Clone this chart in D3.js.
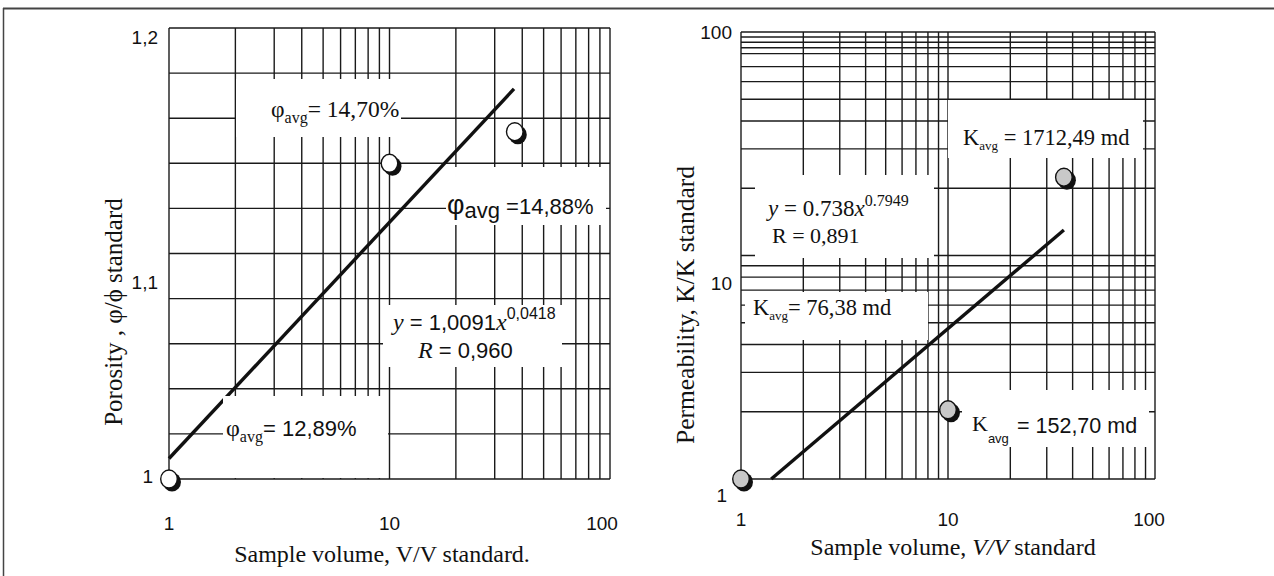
<!DOCTYPE html>
<html>
<head>
<meta charset="utf-8">
<script src="https://cdn.jsdelivr.net/npm/d3@7"></script>
<style>
html,body{margin:0;padding:0;background:#fff;}
svg{display:block;}
</style>
</head>
<body>
<svg id="chart" width="1274" height="576"></svg>
<script>
// ---------- data ----------
const xGridValues = [1,2,3,4,5,6,7,8,9,10,20,30,40,50,60,70,80,90,100];
const xTickValues = [1,10,100];
const xTickLabels = ["1","10","100"];

const porosityGridValues = [1.00,1.02,1.04,1.06,1.08,1.10,1.12,1.14,1.16,1.18,1.20];
const porosityTickValues = [1.2,1.1,1.0];
const porosityTickLabels = ["1,2","1,1","1"];
const porosityPointX = [1, 10, 37];
const porosityPointY = [1.0, 1.14, 1.154];
const porosityTrendX = [1, 36.7];
const porosityTrendY = [1.0091, 1.173];

const permGridValues = [1,2,3,4,5,6,7,8,9,10,20,30,40,50,60,70,80,85,90,95,100];
const permTickValues = [100,10,1];
const permTickLabels = ["100","10","1"];
const permPointX = [1, 10, 36.3];
const permPointY = [1.0, 2.04, 22.4];
const permTrendX = [1.4, 36.3];
const permTrendY = [1.0, 13.0];

// ---------- setup ----------
const svg = d3.select("#chart");
const SERIF = "'Liberation Serif','Times New Roman',serif";
const SANS = "'Liberation Sans',Arial,sans-serif";

// outer frame
svg.append("line").attr("x1",3).attr("y1",8.5).attr("x2",1274).attr("y2",8.5).attr("stroke","#444").attr("stroke-width",2);
svg.append("line").attr("x1",3.5).attr("y1",8).attr("x2",3.5).attr("y2",576).attr("stroke","#444").attr("stroke-width",1.5);

function panel(cfg){
  const g = svg.append("g");
  const x = d3.scaleLog().domain([1,100]).range([cfg.x0,cfg.x1]);
  const y = cfg.yScale;
  const gridG = g.append("g").attr("stroke","#1a1a1a").attr("stroke-width",1.4);
  gridG.selectAll("line.v").data(xGridValues).join("line").attr("class","v")
    .attr("x1",d=>x(d)).attr("x2",d=>x(d)).attr("y1",cfg.y0).attr("y2",cfg.y1);
  gridG.selectAll("line.h").data(cfg.gridY).join("line").attr("class","h")
    .attr("x1",cfg.x0).attr("x2",cfg.x1).attr("y1",d=>y(d)).attr("y2",d=>y(d));
  // trend line
  const line = d3.line().x(d=>x(d[0])).y(d=>y(d[1]));
  g.append("path").datum(d3.zip(cfg.trendX,cfg.trendY)).attr("d",line)
    .attr("fill","none").attr("stroke","#111").attr("stroke-width",3.4);
  // white annotation boxes
  g.selectAll("rect.box").data(cfg.boxes).join("rect").attr("class","box")
    .attr("x",d=>d[0]).attr("y",d=>d[1]).attr("width",d=>d[2]-d[0]).attr("height",d=>d[3]-d[1]).attr("fill","#fff");
  // x tick labels
  g.selectAll("text.xt").data(xTickValues).join("text").attr("class","xt")
    .attr("x",(d,i)=>x(d)+cfg.xTickDx[i]).attr("y",cfg.xTickY)
    .attr("text-anchor","middle").attr("font-family",SANS).attr("font-size",19).attr("fill","#111")
    .text((d,i)=>xTickLabels[i]);
  // y tick labels
  g.selectAll("text.yt").data(cfg.yTicks).join("text").attr("class","yt")
    .attr("x",(d,i)=>cfg.yTickX[i]).attr("y",(d,i)=>y(d)+cfg.yTickDy[i])
    .attr("text-anchor","end").attr("dominant-baseline","central")
    .attr("font-family",SANS).attr("font-size",19).attr("fill","#111")
    .text((d,i)=>cfg.yTickLabels[i]);
  // markers
  const pts = d3.zip(cfg.pointX,cfg.pointY);
  const mg = g.append("g");
  mg.selectAll("ellipse.sh").data(pts).join("ellipse").attr("class","sh")
    .attr("cx",d=>x(d[0])+3).attr("cy",d=>y(d[1])+3).attr("rx",9).attr("ry",9.5).attr("fill","#111");
  mg.selectAll("ellipse.pt").data(pts).join("ellipse").attr("class","pt")
    .attr("cx",d=>x(d[0])).attr("cy",d=>y(d[1])).attr("rx",8.3).attr("ry",9)
    .attr("fill",cfg.markerFill).attr("stroke","#111").attr("stroke-width",1.4);
  return {g,x,y};
}

// ---------- left panel: porosity ----------
const L = panel({
  x0:169, x1:610, y0:28, y1:479,
  yScale: d3.scaleLinear().domain([1,1.2]).range([479,28]),
  gridY: porosityGridValues,
  trendX: porosityTrendX, trendY: porosityTrendY,
  pointX: porosityPointX, pointY: porosityPointY,
  markerFill:"#fff",
  boxes:[[236,79,401,137],[446,167,606,225],[383,305,562,367],[223,396,388,478]],
  xTickDx:[0,0,-8], xTickY:530,
  yTicks: porosityTickValues, yTickLabels: porosityTickLabels,
  yTickX:[158,158,153], yTickDy:[9,29,-3]
});

// left axis titles
svg.append("text").attr("x",382).attr("y",562).attr("text-anchor","middle")
  .attr("font-family",SERIF).attr("font-size",24).attr("fill","#111")
  .text("Sample volume, V/V standard.");
svg.append("text").attr("transform","translate(122,312) rotate(-90)").attr("text-anchor","middle")
  .attr("font-family",SERIF).attr("font-size",25).attr("fill","#111")
  .text("Porosity , φ/ϕ standard");

// left annotations
(function(){
  const t1 = svg.append("text").attr("x",271).attr("y",117).attr("font-family",SERIF).attr("font-size",23.5).attr("fill","#111");
  t1.append("tspan").text("φ");
  t1.append("tspan").attr("font-size",16).attr("dy",6).text("avg");
  t1.append("tspan").attr("dy",-6).text("= 14,70%");

  const t2 = svg.append("text").attr("x",447).attr("y",214).attr("font-family",SANS).attr("font-size",22).attr("fill","#111");
  t2.append("tspan").attr("font-size",27).text("φ");
  t2.append("tspan").attr("font-size",22).attr("dy",4).text("avg");
  t2.append("tspan").attr("font-size",22).attr("dy",-4).text(" =14,88%");

  const t3 = svg.append("text").attr("x",393).attr("y",330).attr("font-family",SANS).attr("font-size",22).attr("fill","#111");
  t3.append("tspan").attr("font-family",SERIF).attr("font-style","italic").attr("font-size",24).text("y");
  t3.append("tspan").text(" = 1,0091");
  t3.append("tspan").attr("font-family",SERIF).attr("font-style","italic").attr("font-size",24).text("x");
  t3.append("tspan").attr("font-size",16).attr("dy",-11).text("0,0418");

  const t4 = svg.append("text").attr("x",418).attr("y",358).attr("font-family",SANS).attr("font-size",22).attr("fill","#111");
  t4.append("tspan").attr("font-family",SERIF).attr("font-style","italic").attr("font-size",24).text("R");
  t4.append("tspan").text(" = 0,960");

  const t5 = svg.append("text").attr("x",226).attr("y",436).attr("font-family",SANS).attr("font-size",22).attr("fill","#111");
  t5.append("tspan").attr("font-family",SERIF).attr("font-size",24).text("φ");
  t5.append("tspan").attr("font-family",SERIF).attr("font-size",16).attr("dy",6).text("avg");
  t5.append("tspan").attr("dy",-6).text("= 12,89%");
})();

// ---------- right panel: permeability ----------
const R = panel({
  x0:741, x1:1155, y0:32, y1:479,
  yScale: d3.scaleLog().domain([1,100]).range([479,32]),
  gridY: permGridValues,
  trendX: permTrendX, trendY: permTrendY,
  pointX: permPointX, pointY: permPointY,
  markerFill:"#c8c8c8",
  boxes:[[948,100,1143,158],[755,175,934,258],[745,292,928,340],[962,390,1149,447]],
  xTickDx:[0,0,-6], xTickY:526,
  yTicks: permTickValues, yTickLabels: permTickLabels,
  yTickX:[732,732,727], yTickDy:[0,28,16]
});

// right axis titles
(function(){
  const t = svg.append("text").attr("x",953).attr("y",555).attr("text-anchor","middle")
    .attr("font-family",SERIF).attr("font-size",24).attr("fill","#111");
  t.append("tspan").text("Sample volume, ");
  t.append("tspan").attr("font-style","italic").text("V/V");
  t.append("tspan").text(" standard");
  svg.append("text").attr("transform","translate(694,305) rotate(-90)").attr("text-anchor","middle")
    .attr("font-family",SERIF).attr("font-size",25.5).attr("fill","#111")
    .text("Permeability, K/K standard");
})();

// right annotations
(function(){
  const a = svg.append("text").attr("x",963).attr("y",145).attr("font-family",SERIF).attr("font-size",22.5).attr("fill","#111");
  a.append("tspan").text("K");
  a.append("tspan").attr("font-size",13).attr("dy",5).text("avg");
  a.append("tspan").attr("dy",-5).text(" = 1712,49 md");

  const b = svg.append("text").attr("x",768).attr("y",216).attr("font-family",SERIF).attr("font-size",23).attr("fill","#111");
  b.append("tspan").attr("font-style","italic").text("y");
  b.append("tspan").text(" = 0.738");
  b.append("tspan").attr("font-style","italic").text("x");
  b.append("tspan").attr("font-size",16).attr("dy",-10).text("0.7949");

  const c = svg.append("text").attr("x",772).attr("y",243).attr("font-family",SERIF).attr("font-size",22).attr("fill","#111");
  c.text("R = 0,891");

  const d = svg.append("text").attr("x",753).attr("y",315).attr("font-family",SERIF).attr("font-size",22.5).attr("fill","#111");
  d.append("tspan").text("K");
  d.append("tspan").attr("font-size",13).attr("dy",5).text("avg");
  d.append("tspan").attr("dy",-5).text("= 76,38 md");

  const e = svg.append("text").attr("x",972).attr("y",431).attr("font-family",SERIF).attr("font-size",22).attr("fill","#111");
  e.append("tspan").text("K");
  e.append("tspan").attr("font-family",SANS).attr("font-size",13).attr("dy",12).text("avg");
  svg.append("text").attr("x",1017).attr("y",433).attr("font-family",SANS).attr("font-size",21.5).attr("fill","#111")
    .text("= 152,70 md");
})();
</script>
</body>
</html>
